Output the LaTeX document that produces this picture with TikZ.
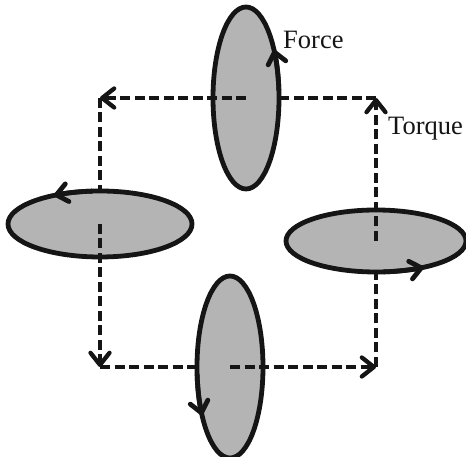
\documentclass[tikz,border=0pt]{standalone}
\usepackage{fontspec}
\setmainfont{Liberation Serif}
\usetikzlibrary{shapes.geometric,arrows.meta}
\definecolor{ink}{HTML}{151515}
\definecolor{disc}{HTML}{B4B4B4}
\begin{document}
\begin{tikzpicture}[x=1pt,y=1pt,
  discnode/.style={ellipse,draw=ink,fill=disc,line width=4.8pt,inner sep=0pt},
  vdisc/.style={discnode,minimum width=66pt,minimum height=182pt},
  hdisc/.style={discnode,minimum width=184pt,minimum height=66pt},
  torque/.style={draw=ink,line width=4.3pt,dash pattern=on 10pt off 4.5pt},
  torquearrow/.style={torque,-{Straight Barb[length=12pt,width=19pt,round]}},
  force/.style={draw=ink,line width=4.8pt,-{Straight Barb[length=11pt,width=18pt,round]}},
  lbl/.style={anchor=base west,inner sep=0pt,text=ink,font=\fontsize{26.5}{30}\selectfont}]
\useasboundingbox (0,0) rectangle (466,457);
% discs
\node[vdisc] (top) at (246,359) {};
\node[hdisc] (left) at (100,233) {};
\node[vdisc] (bottom) at (230,90) {};
\node[hdisc,minimum width=180pt,minimum height=62pt] (right) at (376,216) {};
% corners
\coordinate (c1) at (100,359);
\coordinate (c2) at (100,90);
\coordinate (c3) at (376,90);
\coordinate (c4) at (376,359);
% torque paths
\draw[torquearrow] (top.center) -- (c1);
\draw[torque] (c1) -- (left);
\draw[torquearrow] (left.center) -- (c2);
\draw[torque] (c2) -- (bottom);
\draw[torquearrow] (bottom.center) -- (c3);
\draw[torque] (c3) -- (right);
\draw[torquearrow] (right.center) -- (c4);
\draw[torque] (c4) -- (top);
% force arrows on the discs
\draw[force] ([shift={(5:33pt and 91pt)}]top.center) arc[start angle=5,end angle=32,x radius=33pt,y radius=91pt];
\draw[force] ([shift={(95:92pt and 33pt)}]left.center) arc[start angle=95,end angle=120,x radius=92pt,y radius=33pt];
\draw[force] ([shift={(275:90pt and 31pt)}]right.center) arc[start angle=275,end angle=302,x radius=90pt,y radius=31pt];
\draw[force] ([shift={(185:33pt and 91pt)}]bottom.center) arc[start angle=185,end angle=212,x radius=33pt,y radius=91pt];
% labels
\node[lbl] (flbl) at (283,408) {Force};
\node[lbl] (tlbl) at (388,322) {Torque};
\end{tikzpicture}
\end{document}
